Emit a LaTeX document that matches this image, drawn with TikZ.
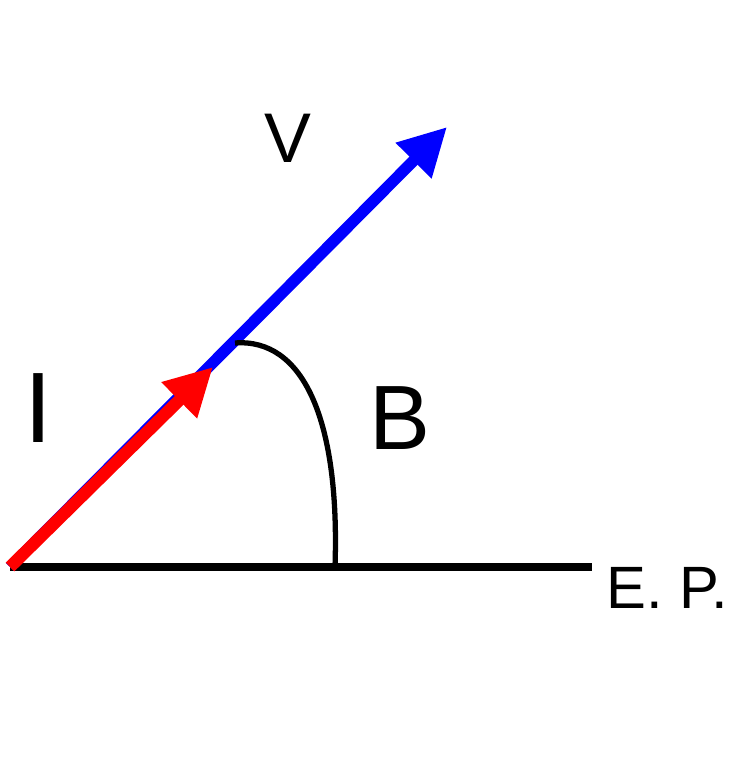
\documentclass[tikz,border=0pt]{standalone}
\usepackage{fontspec}
\setmainfont{Liberation Sans}
\usetikzlibrary{arrows.meta}
\begin{document}
\begin{tikzpicture}
    \useasboundingbox (0,0) rectangle (14.88,15.36);

    % Points
    \coordinate (O) at (0.2,4.02);
    \coordinate (EPend) at (11.84,4.02);
    \coordinate (Vtip) at (8.94,12.82);
    \coordinate (Itip) at (4.26,8.02);
    \coordinate (Barc) at (4.7,8.5);
    \coordinate (Bfoot) at (6.7,4.02);

    % Plan de l'écliptique
    \draw[line width=5pt] (O) -- (EPend);
    \node[anchor=west, font=\fontsize{34}{34}\selectfont] (ep) at (12.0,3.6) {E. P.};

    % Vitesse
    \draw[blue, line width=6.5pt, -{Triangle[length=0.95cm,width=0.95cm]}] (O) -- (Vtip);
    \node[font=\fontsize{40}{40}\selectfont] (v) at (5.76,12.6) {V};

    % Inclinaison
    \draw[red, line width=7pt, -{Triangle[length=0.95cm,width=0.95cm]}] (O) -- (Itip);
    \node[font=\fontsize{57}{57}\selectfont] (i) at (0.76,7.2) {I};

    % Angle B
    \draw[line width=3pt] (Barc) .. controls (6.05,8.6) and (6.8,7.0) .. (Bfoot);
    \node[font=\fontsize{52}{52}\selectfont] (b) at (8.0,7.0) {B};
\end{tikzpicture}
\end{document}
